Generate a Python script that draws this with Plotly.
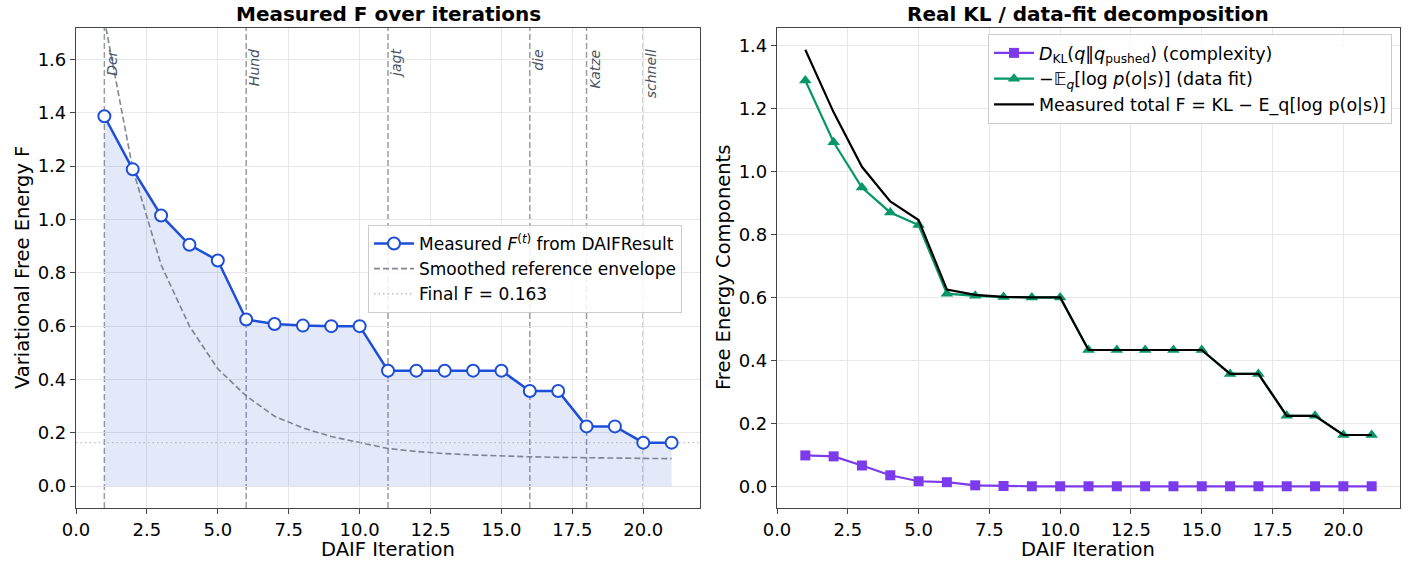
import plotly.graph_objects as go

iterations = list(range(1, 22))
measured_F = [1.387, 1.188, 1.015, 0.905, 0.846, 0.625, 0.608, 0.602, 0.600, 0.600,
              0.433, 0.433, 0.433, 0.433, 0.433, 0.357, 0.357, 0.224, 0.224, 0.163, 0.163]
envelope = [1.75, 1.19, 0.83, 0.60, 0.44, 0.338, 0.262, 0.218, 0.186, 0.164,
            0.141, 0.130, 0.122, 0.117, 0.113, 0.110, 0.108, 0.106, 0.105, 0.104, 0.103]
final_F = 0.163
kl = [0.098, 0.095, 0.066, 0.035, 0.016, 0.013, 0.003, 0.001, 0.0, 0.0,
      0.0, 0.0, 0.0, 0.0, 0.0, 0.0, 0.0, 0.0, 0.0, 0.0, 0.0]
data_fit = [1.289, 1.093, 0.949, 0.870, 0.830, 0.612, 0.605, 0.601, 0.600, 0.600,
            0.433, 0.433, 0.433, 0.433, 0.433, 0.357, 0.357, 0.224, 0.224, 0.163, 0.163]
total_F = measured_F
word_iters = [1, 6, 11, 16, 18, 20]
words = ["Der", "Hund", "jagt", "die", "Katze", "schnell"]

x_ticks = [0, 2.5, 5, 7.5, 10, 12.5, 15, 17.5, 20]
left_y_ticks = [0.0, 0.2, 0.4, 0.6, 0.8, 1.0, 1.2, 1.4, 1.6]
right_y_ticks = [0.0, 0.2, 0.4, 0.6, 0.8, 1.0, 1.2, 1.4]

BLUE = "#1d4ed8"
PURPLE = "#7c3aed"
GREEN = "#059669"
FONT = "DejaVu Sans"

W, H = 1418, 563
def px(x):
    return x / W
def py(y):
    return 1 - y / H

fig = go.Figure()

# Left panel
fig.add_trace(go.Scatter(x=iterations, y=measured_F, fill="tozeroy", mode="none",
                         fillcolor="rgba(29,78,216,0.12)", showlegend=False,
                         xaxis="x", yaxis="y", hoverinfo="skip"))
fig.add_trace(go.Scatter(x=iterations, y=envelope, mode="lines",
                         line=dict(color="rgba(107,114,128,0.85)", width=1.6, dash="6px,3px"),
                         name="Smoothed reference envelope", xaxis="x", yaxis="y",
                         legend="legend", legendrank=2))
fig.add_trace(go.Scatter(x=[0, 22], y=[final_F, final_F], mode="lines",
                         line=dict(color="#bdbdbd", width=1.3, dash="1.5px,3px"),
                         name="Final F = 0.163", xaxis="x", yaxis="y",
                         legend="legend", legendrank=3))
fig.add_trace(go.Scatter(x=iterations, y=measured_F, mode="lines+markers",
                         line=dict(color=BLUE, width=2.5),
                         marker=dict(symbol="circle", size=12, color="white",
                                     line=dict(color=BLUE, width=2)),
                         name="Measured <i>F</i><sup>(<i>t</i>)</sup> from DAIFResult",
                         xaxis="x", yaxis="y", legend="legend", legendrank=1))

shapes = []
annotations = []
for wi, w in zip(word_iters, words):
    shapes.append(dict(type="line", xref="x", yref="y domain", x0=wi, x1=wi, y0=0, y1=1,
                       line=dict(color="rgba(107,114,128,0.7)", width=1.5, dash="6px,3px"),
                       layer="below"))
    annotations.append(dict(x=wi, y=1.645, xref="x", yref="y", text=w, showarrow=False,
                            textangle=-90, xanchor="left", yanchor="top", xshift=-2,
                            font=dict(family=FONT, size=14, color="#4b5563",
                                      style="italic")))

# Right panel
fig.add_trace(go.Scatter(x=iterations, y=kl, mode="lines+markers",
                         line=dict(color=PURPLE, width=2.2),
                         marker=dict(symbol="square", size=10, color=PURPLE),
                         name="<i>D</i><sub>KL</sub>(<i>q</i>‖<i>q</i><sub>pushed</sub>) (complexity)",
                         xaxis="x2", yaxis="y2", legend="legend2", legendrank=1))
fig.add_trace(go.Scatter(x=iterations, y=data_fit, mode="lines+markers",
                         line=dict(color=GREEN, width=2.2),
                         marker=dict(symbol="triangle-up", size=11, color=GREEN),
                         name="−𝔼<sub><i>q</i></sub>[log <i>p</i>(<i>o</i>|<i>s</i>)] (data fit)",
                         xaxis="x2", yaxis="y2", legend="legend2", legendrank=2))
fig.add_trace(go.Scatter(x=iterations, y=total_F, mode="lines",
                         line=dict(color="black", width=2.2),
                         name="Measured total F = KL − E_q[log p(o|s)]",
                         xaxis="x2", yaxis="y2", legend="legend2", legendrank=3))

def paper_text(x, y, text, size, angle=0, bold=False):
    annotations.append(dict(x=px(x), y=py(y), xref="paper", yref="paper",
                            text=f"<b>{text}</b>" if bold else text, showarrow=False,
                            xanchor="center", yanchor="middle", textangle=angle,
                            font=dict(family=FONT, size=size, color="black")))

# Titles and axis titles
paper_text(388, 14, "Measured F over iterations", 20, bold=True)
paper_text(1088, 14, "Real KL / data-fit decomposition", 20, bold=True)
paper_text(388, 549, "DAIF Iteration", 19.5)
paper_text(1088, 549, "DAIF Iteration", 19.5)
paper_text(22, 268, "Variational Free Energy F", 19.5, angle=-90)
paper_text(723, 268, "Free Energy Components", 19.5, angle=-90)

axis_common = dict(showgrid=True, gridcolor="#e8e8e8", gridwidth=1,
                   showline=True, linecolor="#444", linewidth=1.2, mirror=True,
                   ticks="outside", ticklen=5, tickcolor="#444",
                   tickfont=dict(family=FONT, size=18, color="black"),
                   zeroline=False, automargin=False, tickformat=".1f")

fig.update_layout(
    width=W, height=H,
    margin=dict(l=0, r=0, t=0, b=0),
    paper_bgcolor="white", plot_bgcolor="white",
    font=dict(family=FONT, color="black"),
    xaxis=dict(domain=[px(76), px(700)], range=[0, 22], tickvals=x_ticks,
               anchor="y", **axis_common),
    yaxis=dict(domain=[py(508), py(28)], range=[-0.082, 1.718], tickvals=left_y_ticks,
               anchor="x", **axis_common),
    xaxis2=dict(domain=[px(777), px(1400)], range=[0, 22], tickvals=x_ticks,
                anchor="y2", **axis_common),
    yaxis2=dict(domain=[py(508), py(28)], range=[-0.069, 1.456], tickvals=right_y_ticks,
                anchor="x2", **axis_common),
    legend=dict(x=px(368), y=py(225), xanchor="left", yanchor="top",
                bgcolor="rgba(255,255,255,0.85)", bordercolor="#cccccc", borderwidth=1,
                font=dict(family=FONT, size=17, color="black"), itemwidth=40,
                tracegroupgap=0),
    legend2=dict(x=px(988), y=py(34), xanchor="left", yanchor="top",
                 bgcolor="rgba(255,255,255,0.85)", bordercolor="#cccccc", borderwidth=1,
                 font=dict(family=FONT, size=17.5, color="black"), itemwidth=40,
                 tracegroupgap=0),
    shapes=shapes,
    annotations=annotations,
)

fig.write_html("out.html")
